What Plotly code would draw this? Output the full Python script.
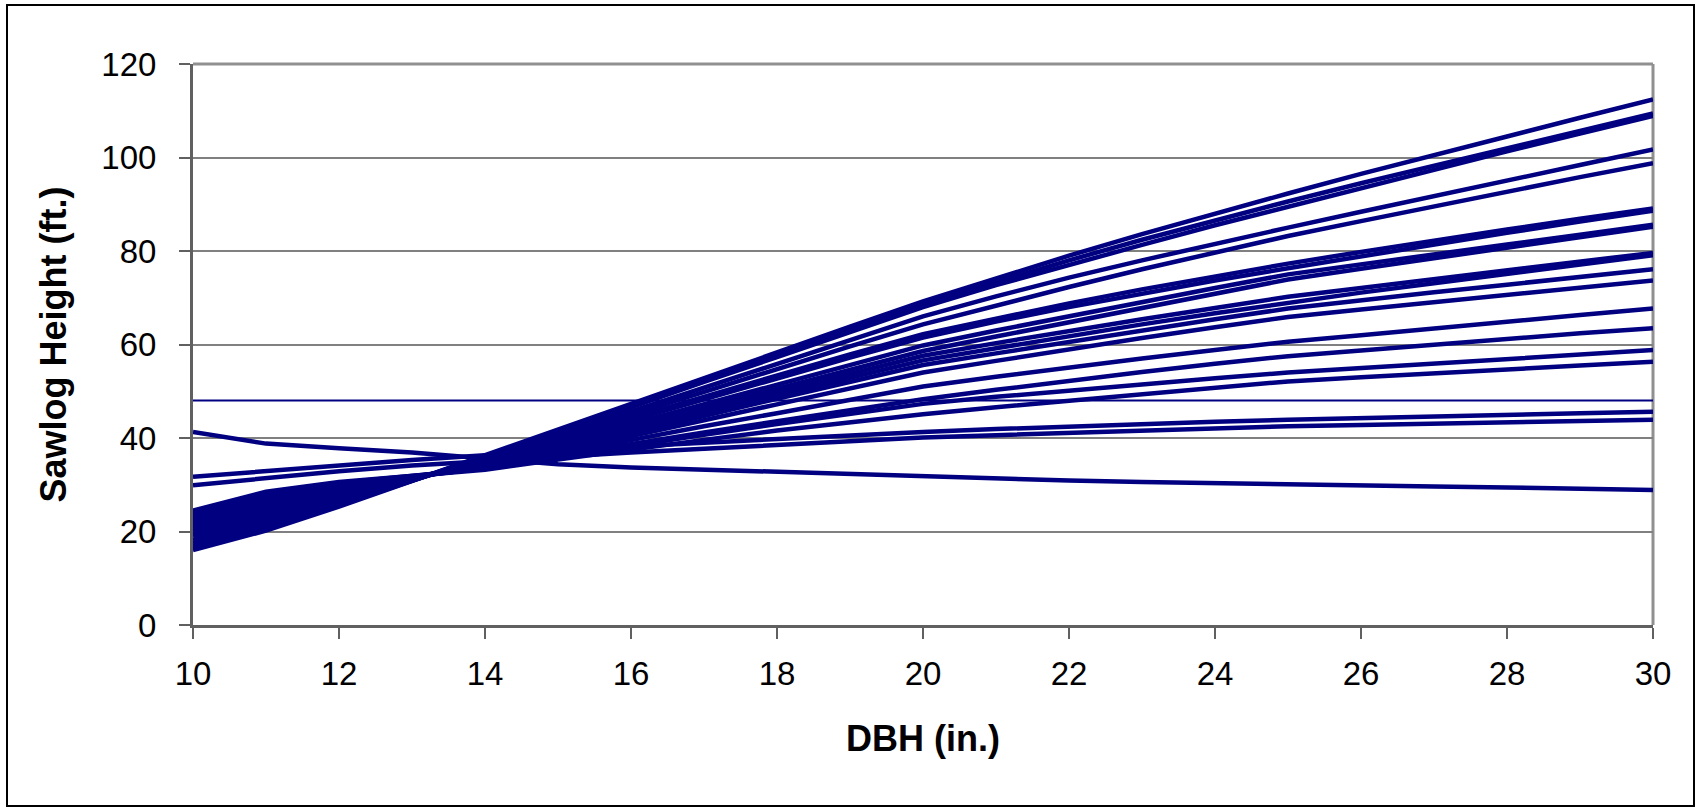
import plotly.graph_objects as go

dbh = list(range(10, 31))

# Sawlog height (ft.) by DBH (in.), one list per curve
h01 = [16.0, 20.2, 25.3, 30.8, 36.3, 41.9, 47.5, 53.0, 58.4, 63.8, 69.2, 74.2, 79.0, 83.6, 88.0, 92.3, 96.5, 100.6, 104.5, 108.5, 112.4]
h02 = [16.5, 20.8, 25.6, 30.8, 36.0, 41.4, 47.0, 52.5, 57.9, 63.3, 68.6, 73.4, 78.0, 82.4, 86.6, 90.6, 94.5, 98.3, 102.0, 105.7, 109.4]
h03 = [17.0, 21.2, 25.9, 30.8, 35.8, 41.1, 46.6, 52.0, 57.3, 62.7, 68.0, 72.7, 77.1, 81.3, 85.5, 89.5, 93.5, 97.4, 101.3, 105.1, 108.9]
h04 = [17.6, 21.9, 26.4, 31.0, 35.6, 40.6, 45.7, 50.8, 55.9, 61.0, 66.0, 70.3, 74.3, 78.0, 81.6, 85.0, 88.4, 91.8, 95.1, 98.4, 101.7]
h05 = [18.2, 22.5, 26.8, 31.1, 35.3, 40.1, 45.0, 49.9, 54.8, 59.6, 64.3, 68.4, 72.3, 76.1, 79.7, 83.2, 86.4, 89.6, 92.7, 95.8, 98.8]
h06 = [19.0, 23.2, 27.3, 31.2, 35.1, 39.7, 44.3, 48.9, 53.4, 57.9, 62.2, 65.6, 68.8, 71.8, 74.6, 77.3, 79.8, 82.3, 84.6, 86.9, 89.1]
h07 = [19.5, 23.6, 27.6, 31.3, 34.9, 39.3, 43.8, 48.3, 52.8, 57.2, 61.5, 64.9, 68.0, 70.9, 73.7, 76.3, 78.9, 81.4, 83.9, 86.3, 88.6]
h08 = [20.2, 24.2, 28.0, 31.4, 34.6, 38.8, 43.0, 47.3, 51.5, 55.7, 59.8, 63.0, 66.1, 69.1, 72.1, 75.0, 77.2, 79.3, 81.4, 83.5, 85.6]
h09 = [20.8, 24.7, 28.3, 31.5, 34.4, 38.4, 42.4, 46.4, 50.5, 54.6, 58.6, 61.7, 64.7, 67.7, 70.8, 73.9, 76.2, 78.5, 80.8, 83.0, 85.2]
h10 = [21.3, 25.2, 28.6, 31.6, 34.3, 38.2, 42.0, 45.9, 49.8, 53.7, 57.6, 60.3, 62.9, 65.4, 67.8, 70.2, 72.1, 74.0, 75.9, 77.8, 79.6]
h11 = [21.8, 25.7, 28.9, 31.6, 34.1, 37.8, 41.5, 45.3, 49.1, 52.9, 56.6, 59.2, 61.8, 64.3, 66.7, 69.0, 71.1, 73.1, 75.1, 77.1, 79.1]
h12 = [22.3, 26.2, 29.2, 31.7, 34.0, 37.5, 41.0, 44.7, 48.4, 52.0, 55.6, 58.1, 60.6, 63.0, 65.4, 67.7, 69.5, 71.2, 72.8, 74.5, 76.1]
h13 = [22.8, 26.7, 29.5, 31.7, 33.8, 37.0, 40.3, 43.8, 47.2, 50.6, 54.0, 56.5, 59.0, 61.4, 63.7, 65.9, 67.5, 69.1, 70.6, 72.2, 73.7]
h14 = [23.3, 27.2, 29.8, 31.8, 33.6, 36.6, 39.6, 42.5, 45.3, 48.2, 51.0, 53.1, 55.1, 57.0, 58.8, 60.6, 62.0, 63.5, 64.9, 66.3, 67.7]
h15 = [23.8, 27.7, 30.1, 31.9, 33.5, 36.2, 38.8, 41.2, 43.6, 46.0, 48.3, 50.3, 52.3, 54.1, 55.9, 57.5, 58.7, 60.0, 61.2, 62.4, 63.5]
h16 = [24.2, 28.1, 30.4, 32.0, 33.4, 35.9, 38.4, 40.7, 43.0, 45.2, 47.3, 48.8, 50.2, 51.5, 52.8, 54.0, 55.0, 56.0, 57.0, 57.9, 58.8]
h17 = [24.5, 28.5, 30.6, 32.0, 33.2, 35.4, 37.6, 39.6, 41.6, 43.4, 45.1, 46.6, 48.0, 49.4, 50.8, 52.1, 53.0, 53.9, 54.7, 55.5, 56.3]
h18 = [31.7, 32.9, 34.2, 35.3, 36.3, 37.3, 38.2, 39.0, 39.8, 40.6, 41.3, 41.9, 42.5, 43.0, 43.5, 43.9, 44.3, 44.7, 45.0, 45.3, 45.6]
h19 = [29.9, 31.4, 32.9, 34.1, 35.1, 36.1, 36.9, 37.7, 38.5, 39.3, 40.1, 40.6, 41.1, 41.6, 42.1, 42.5, 42.8, 43.1, 43.4, 43.6, 43.9]
h20 = [41.3, 38.8, 37.8, 36.9, 35.6, 34.4, 33.7, 33.2, 32.7, 32.2, 31.8, 31.3, 30.9, 30.6, 30.3, 30.1, 29.8, 29.6, 29.4, 29.1, 28.9]
h_flat = [48.0] * 21

curves = [h01, h02, h03, h04, h05, h06, h07, h08, h09, h10,
          h11, h12, h13, h14, h15, h16, h17, h18, h19, h20]

x_ticks = [10, 12, 14, 16, 18, 20, 22, 24, 26, 28, 30]
y_ticks = [0, 20, 40, 60, 80, 100, 120]

NAVY = "#000080"
FONT = "Liberation Sans, Arial, sans-serif"

fig = go.Figure()
fig.add_trace(go.Scatter(x=dbh, y=h_flat, mode="lines",
                         line=dict(color=NAVY, width=2), showlegend=False,
                         hoverinfo="skip"))
for c in curves:
    fig.add_trace(go.Scatter(x=dbh, y=c, mode="lines",
                             line=dict(color=NAVY, width=4.5), showlegend=False,
                             hoverinfo="skip"))

L, R, T, B = 193, 48, 64, 184
W, H = 1701, 809
pw, ph = W - L - R, H - T - B

def px(xp):
    return (xp - L) / pw

def py(yp):
    return (H - B - yp) / ph

fig.update_layout(
    width=W, height=H, autosize=False,
    margin=dict(l=L, r=R, t=T, b=B, pad=0),
    paper_bgcolor="white", plot_bgcolor="white",
    font=dict(family=FONT, color="black", size=33),
    xaxis=dict(
        range=[10, 30], tickvals=x_ticks, ticktext=[str(v) for v in x_ticks],
        ticks="outside", ticklen=11, tickwidth=2, tickcolor="#606060",
        showline=True, linecolor="#606060", linewidth=3,
        showgrid=False, zeroline=False,
        tickfont=dict(size=33, family=FONT, color="black"),
        ticklabelstandoff=6,
        title=dict(text="<b>DBH (in.)</b>", font=dict(size=36, family=FONT, color="black"),
                   standoff=36),
    ),
    yaxis=dict(
        range=[0, 120], tickvals=y_ticks, ticktext=[str(v) for v in y_ticks],
        ticks="outside", ticklen=11, tickwidth=2, tickcolor="#606060",
        showline=True, linecolor="#606060", linewidth=3,
        showgrid=True, gridcolor="#808080", gridwidth=1.5,
        zeroline=False,
        tickfont=dict(size=33, family=FONT, color="black"),
        ticklabelstandoff=16,
        title=dict(text="<b>Sawlog Height (ft.)</b>", font=dict(size=36, family=FONT, color="black"),
                   standoff=24),
    ),
    shapes=[
        # plot frame (top and right sides appear grey)
        dict(type="line", xref="paper", yref="paper", x0=0, x1=1, y0=1, y1=1,
             line=dict(color="#909090", width=3), layer="below"),
        dict(type="line", xref="paper", yref="paper", x0=1, x1=1, y0=0, y1=1,
             line=dict(color="#909090", width=3), layer="below"),
        # outer chart border
        dict(type="rect", xref="paper", yref="paper",
             x0=px(7), x1=px(1694), y0=py(806), y1=py(5),
             line=dict(color="black", width=2), fillcolor="rgba(0,0,0,0)"),
    ],
)

fig.write_html("out.html")
